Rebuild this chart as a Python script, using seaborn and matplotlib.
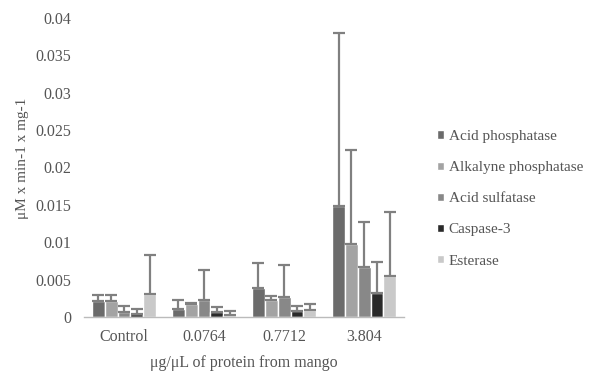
import numpy as np
import pandas as pd
import matplotlib
matplotlib.use("Agg")
import matplotlib.pyplot as plt
import seaborn as sns

doses = ["Control", "0.0764", "0.7712", "3.804"]
enzymes = ["Acid phosphatase", "Alkalyne phosphatase", "Acid sulfatase", "Caspase-3", "Esterase"]

# mean activity per dose, one list per enzyme
acid_phos = [0.0021, 0.0010, 0.0038, 0.0148]
alk_phos = [0.0021, 0.0017, 0.0022, 0.0098]
acid_sulf = [0.0007, 0.0023, 0.0027, 0.0067]
caspase3 = [0.0004, 0.0006, 0.0008, 0.0032]
esterase = [0.0031, 0.0003, 0.0009, 0.0055]

# upper error (SD) per dose
acid_phos_err = [0.0008, 0.0013, 0.0034, 0.0232]
alk_phos_err = [0.0008, 0.0002, 0.0006, 0.0125]
acid_sulf_err = [0.0007, 0.0040, 0.0043, 0.0060]
caspase3_err = [0.0007, 0.0007, 0.0007, 0.0042]
esterase_err = [0.0052, 0.0005, 0.0008, 0.0085]

colors = ["#6b6b6b", "#a3a3a3", "#888888", "#2a2a2a", "#c9c9c9"]
yticks = [0, 0.005, 0.01, 0.015, 0.02, 0.025, 0.03, 0.035, 0.04]

means = [acid_phos, alk_phos, acid_sulf, caspase3, esterase]
errs = [acid_phos_err, alk_phos_err, acid_sulf_err, caspase3_err, esterase_err]

df = pd.DataFrame({
    "dose": doses * len(enzymes),
    "enzyme": np.repeat(enzymes, len(doses)),
    "value": np.concatenate(means),
})

sns.set_style("white")
plt.rcParams["font.family"] = ["Liberation Serif", "DejaVu Serif"]

fig = plt.figure(figsize=(5.91, 3.75), dpi=100)
ax = fig.add_axes([0.142, 0.155, 0.542, 0.797])

sns.barplot(data=df, x="dose", y="value", hue="enzyme", hue_order=enzymes,
            order=doses, palette=colors, errorbar=None, width=0.8,
            saturation=1, ax=ax)

# upper error bars only
for cont, err in zip(ax.containers, errs):
    xs = [b.get_x() + b.get_width() / 2 for b in cont]
    ys = [b.get_height() for b in cont]
    ax.errorbar(xs, ys, yerr=[np.zeros(len(err)), err], fmt="none",
                ecolor="#808080", elinewidth=1.6, capsize=4.2, capthick=1.6,
                zorder=1)

ax.set_ylim(0, 0.04)
ax.set_xlim(-0.5, 3.5)
ax.set_yticks(yticks)
ax.set_yticklabels([f"{v:g}" for v in yticks])
ax.tick_params(axis="both", length=0, labelsize=11.5, labelcolor="#555555")
ax.tick_params(axis="y", pad=9)
ax.tick_params(axis="x", pad=9)

for s in ["top", "right", "left"]:
    ax.spines[s].set_visible(False)
ax.spines["bottom"].set_color("#bbbbbb")
ax.spines["bottom"].set_linewidth(1)

ax.set_xlabel("μg/μL of protein from mango", fontsize=11.5, color="#555555", labelpad=7)
ax.set_ylabel("μM x min-1 x mg-1", fontsize=11, color="#555555")
ax.yaxis.set_label_coords(-0.17, 0.53)

handles, labels = ax.get_legend_handles_labels()
ax.legend(handles, labels, loc="center left", bbox_to_anchor=(1.06, 0.395),
          frameon=False, fontsize=11, labelcolor="#555555",
          handlelength=0.45, handleheight=0.45, handletextpad=0.3,
          labelspacing=1.19)

fig.savefig("out.png", dpi=100)
